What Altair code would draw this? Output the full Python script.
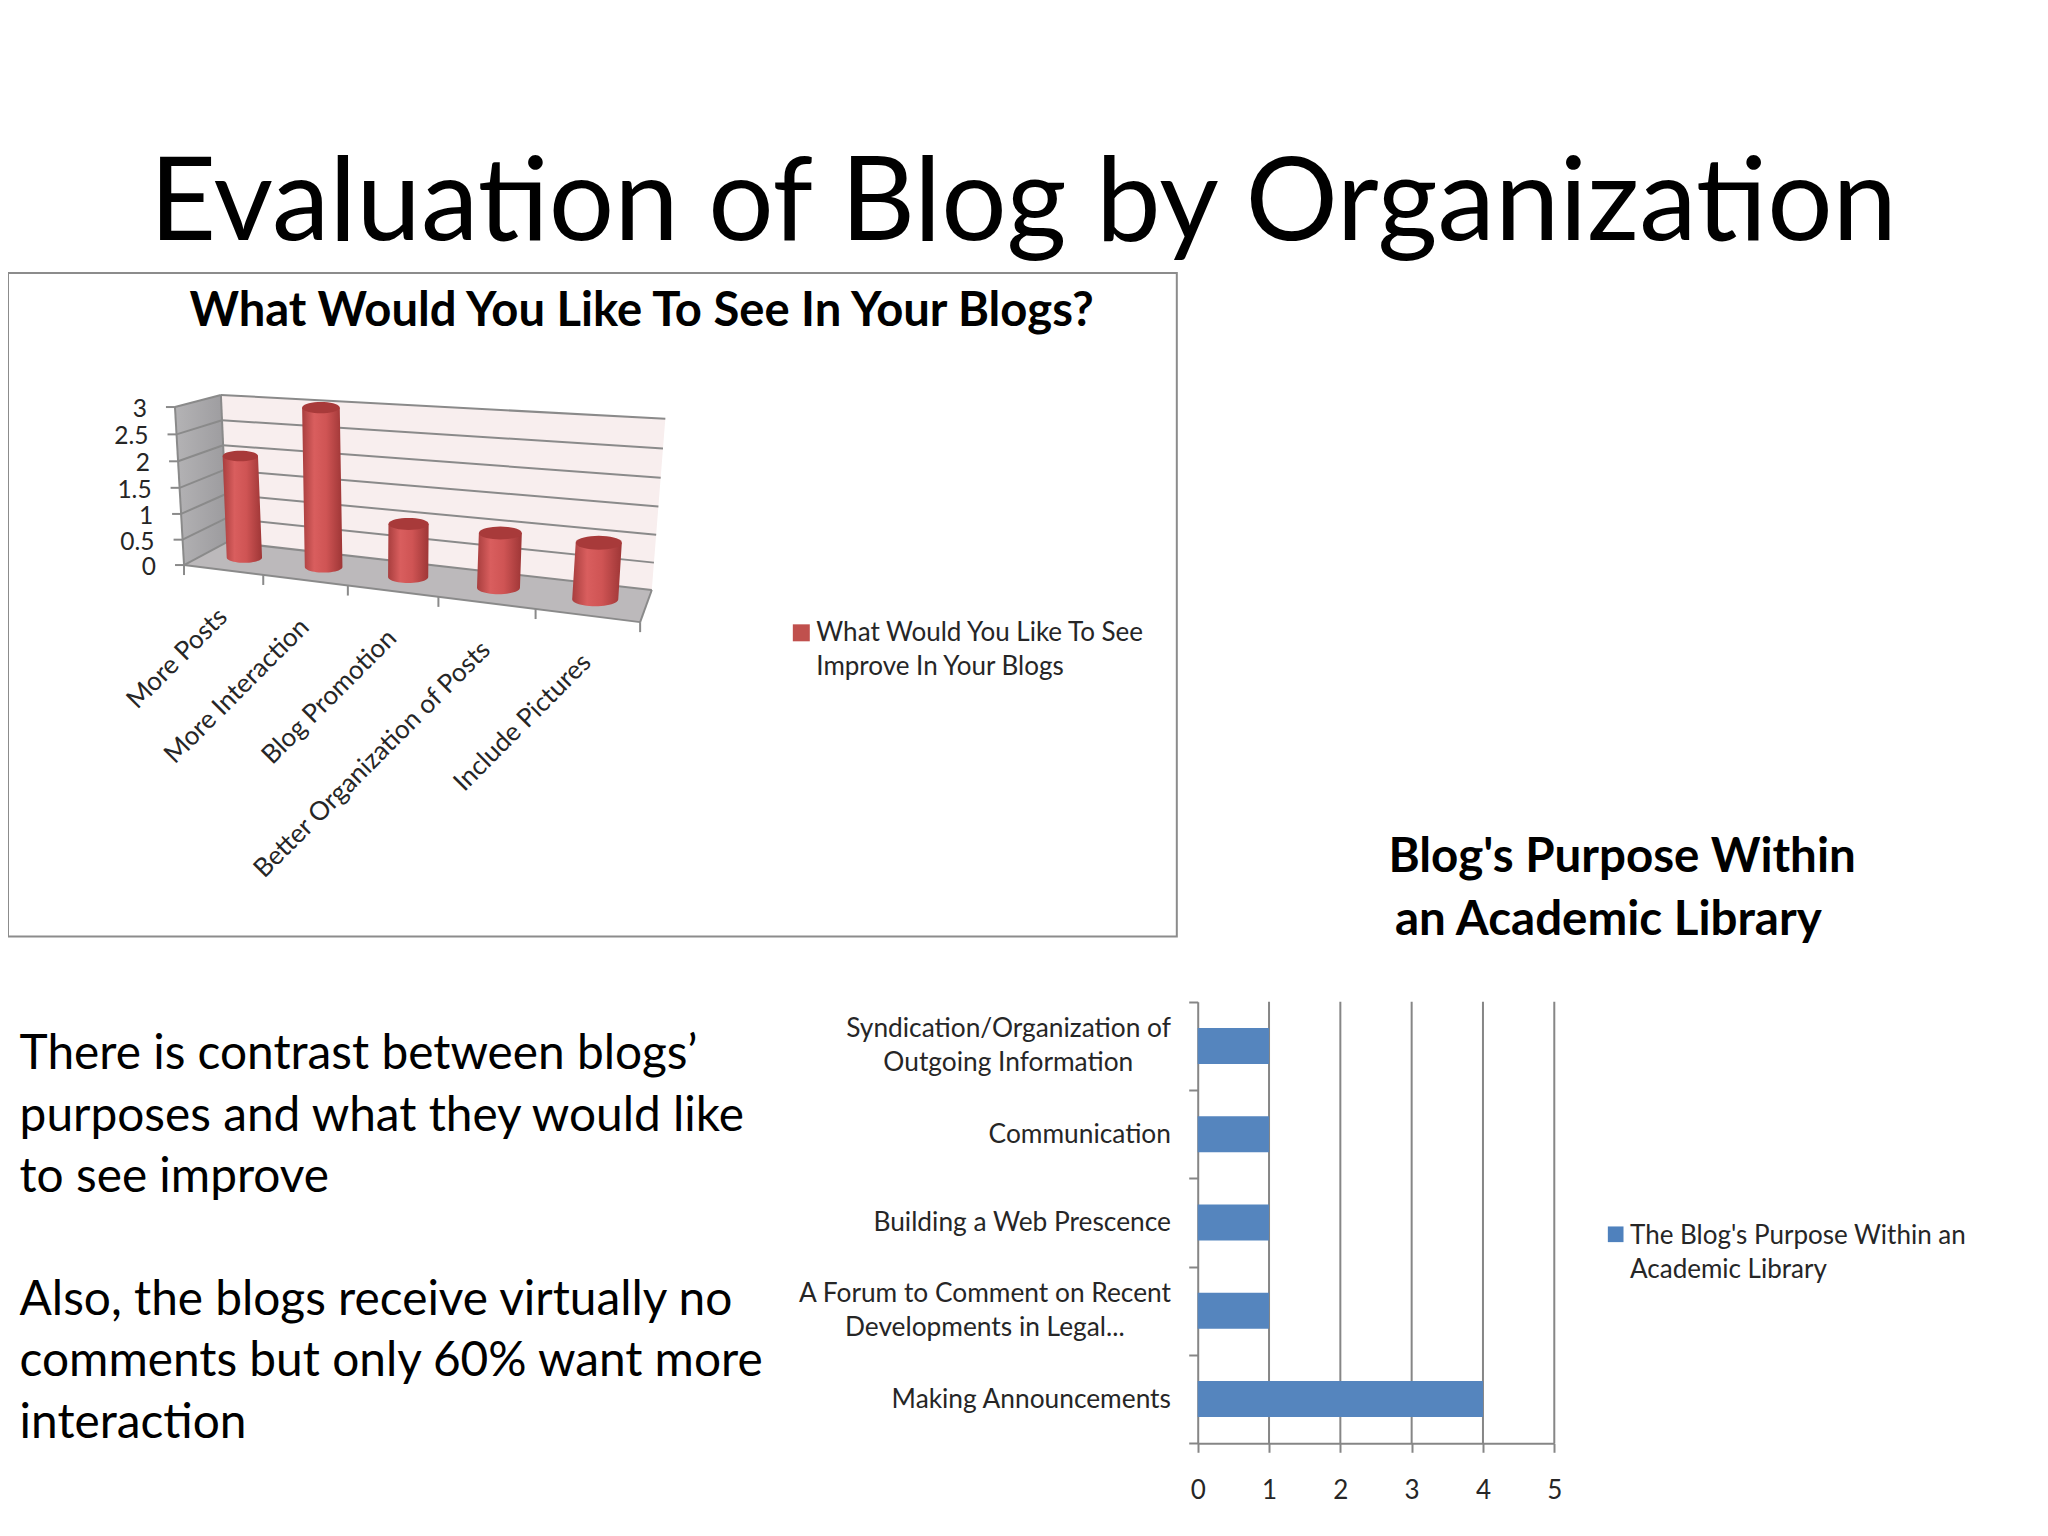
import altair as alt
import numpy as np
import pandas as pd

W, H = 2032, 1520
FONT = "Lato"

# ---- chart data ----
wish_cats = ["More Posts", "More Interaction", "Blog Promotion", "Better Organization of Posts", "Include Pictures"]
wish_vals = [2, 3, 1, 1, 1]
wish_ticks = [0, 0.5, 1, 1.5, 2, 2.5, 3]
purpose_cats = ["Syndication/Organization of Outgoing Information", "Communication", "Building a Web Prescence",
                "A Forum to Comment on Recent Developments in Legal...", "Making Announcements"]
purpose_vals = [1, 1, 1, 1, 4]
purpose_ticks = [0, 1, 2, 3, 4, 5]
title = "Evaluation of Blog by Organization"
body_lines = ["There is contrast between blogs’", "purposes and what they would like", "to see improve",
              "Also, the blogs receive virtually no", "comments but only 60% want more", "interaction"]


def page(x, y):
    return x * 2048 / 1568 - 8, y * 2048 / 1568 - 8


def zoomed(zx, zy):
    return zx / 2.24 - 8, 270 + zy / 2.45 - 8


# ---- perspective fit for the 3D column chart: (category pos, depth, value) -> picture ----
calib = [((0, 0, 0), (415, 722)), ((5, 0, 0), (1435, 865)), ((5, 1, 0), (1460, 780)), ((0, 1, 0), (500, 672)),
         ((0, 0, 3), (387, 333)), ((0, 1, 3), (500, 306)), ((5, 1, 3), (1490, 362)),
         ((1, 0, 0), (590, 745)), ((2, 0, 0), (778, 773)), ((3, 0, 0), (980, 803)), ((4, 0, 0), (1198, 833)),
         ((0.5, 0.5, 0), (552, 700)), ((1.5, 0.5, 0), (728, 725)), ((2.5, 0.5, 0), (915, 750)),
         ((3.5, 0.5, 0), (1120, 778)), ((4.5, 0.5, 0), (1333, 808)),
         ((0.5, 0.5, 2), (540, 458)), ((1.5, 0.5, 3), (718, 340)), ((2.5, 0.5, 1), (915, 623)),
         ((3.5, 0.5, 1), (1120, 645)), ((4.5, 0.5, 1), (1340, 670))]
A, b = [], []
for (X, Y, Z), z in calib:
    x, y = zoomed(*z)
    A.append([X, Y, Z, 1, 0, 0, 0, 0, -x * X, -x * Y, -x * Z]); b.append(x)
    A.append([0, 0, 0, 0, X, Y, Z, 1, -y * X, -y * Y, -y * Z]); b.append(y)
P = np.linalg.lstsq(np.array(A, float), np.array(b, float), rcond=None)[0]
P = np.append(P, 1.0).reshape(3, 4)


def proj(u, d, v):
    q = P @ np.array([u, d, v, 1.0])
    return float(q[0] / q[2]), float(q[1] / q[2])


def polygon_rows(pts, pid):
    pts = list(pts)
    xs = sorted({round(p[0], 3) for p in pts})
    rows = []
    n = len(pts)
    for x in xs:
        ys = []
        for i in range(n):
            (x1, y1), (x2, y2) = pts[i], pts[(i + 1) % n]
            lo, hi = min(x1, x2), max(x1, x2)
            if lo - 1e-3 <= x <= hi + 1e-3:
                if abs(x2 - x1) < 1e-6:
                    ys += [y1, y2]
                else:
                    ys.append(y1 + (y2 - y1) * (x - x1) / (x2 - x1))
        rows.append({"x": x, "y": min(ys), "y2": max(ys), "id": pid})
    return rows


SX = alt.Scale(domain=[0, W], range=[0, W])
SY = alt.Scale(domain=[0, H], range=[0, H])
enc_x = alt.X("x:Q", scale=SX, axis=None)
enc_y = alt.Y("y:Q", scale=SY, axis=None)


def area_layer(rows, fill, **kw):
    return alt.Chart(pd.DataFrame(rows)).mark_area(color=fill, interpolate="linear", orient="vertical", **kw).encode(
        x=enc_x, y=enc_y, y2="y2:Q", detail="id:N")


def seg_layer(segs, color, width):
    df = pd.DataFrame([{"x": a[0], "y": a[1], "x2": c[0], "y2": c[1]} for a, c in segs])
    return alt.Chart(df).mark_rule(color=color, strokeWidth=width).encode(x=enc_x, y=enc_y, x2="x2:Q", y2="y2:Q")


def text_layer(lines, size, weight="normal", align="left", angle=0, color="#000000", font=FONT):
    df = pd.DataFrame([{"x": x, "y": y, "t": t} for t, x, y in lines])
    return alt.Chart(df).mark_text(font=font, fontSize=size, fontWeight=weight, align=align, baseline="middle",
                                   angle=angle, color=color).encode(x=enc_x, y=enc_y, text="t:N")


scene = []
# slide title and paragraph
scene.append(text_layer([(title, *page(114.5, 157))], 115.5))
ys = [808, 855, 902, 996, 1043, 1090]
scene.append(text_layer([(t, *page(15, y)) for t, y in zip(body_lines, ys)], 47.8))

# chart frame
x0, y0 = page(0, 209)
x1, y1 = page(901, 717)
frame = pd.DataFrame([{"x": 0, "x2": x1, "y": y0, "y2": y1}])
scene.append(alt.Chart(frame).mark_rect(fill="white", stroke="#8c8c8c", strokeWidth=2).encode(
    x=enc_x, x2="x2:Q", y=enc_y, y2="y2:Q"))
scene.append(text_layer([("What Would You Like To See In Your Blogs?", *page(145, 239))], 47.2, weight="bold"))

# 3D walls
wall_back = [proj(0, 1, 0), proj(5, 1, 0), proj(5, 1, 3), proj(0, 1, 3)]
wall_side = [proj(0, 0, 0), proj(0, 1, 0), proj(0, 1, 3), proj(0, 0, 3)]
floor = [proj(0, 0, 0), proj(5, 0, 0), proj(5, 1, 0), proj(0, 1, 0)]
scene.append(area_layer(polygon_rows(wall_back, "b"), "#f8eeee"))
scene.append(area_layer(polygon_rows(wall_side, "s"),
                        alt.Gradient(gradient="linear", x1=0, x2=1, y1=0, y2=0,
                                     stops=[alt.GradientStop(color="#b4b3b5", offset=0),
                                            alt.GradientStop(color="#9c9b9e", offset=1)])))
scene.append(area_layer(polygon_rows(floor, "f"), "#bcb9bb"))
grid = []
for v in wish_ticks[1:]:
    grid.append((proj(0, 1, v), proj(5, 1, v)))
    grid.append((proj(0, 1, v), proj(0, 0, v)))
grid.append((proj(0, 1, 0), proj(0, 1, 3)))
grid.append((proj(5, 0, 0), proj(5, 1, 0)))
grid.append((proj(0, 1, 0), proj(5, 1, 0)))
grid.append((proj(0, 0, 0), proj(0, 1, 0)))
grid.append((proj(0, 0, 0), proj(0, 0, 3)))
grid.append((proj(0, 0, 0), proj(5, 0, 0)))
scene.append(seg_layer(grid, "#8a8a8a", 2))
ticks = []
for v in wish_ticks:
    a = proj(0, 0, v)
    ticks.append((a, (a[0] - 9, a[1])))
for u in range(6):
    a = proj(u, 0, 0)
    ticks.append((a, (a[0], a[1] + 10)))
scene.append(seg_layer(ticks, "#8a8a8a", 2))

# cylinders
bodies, caps = [], []
for i, val in enumerate(wish_vals):
    bx, by = proj(i + 0.5, 0.5, 0)
    tx, ty = proj(i + 0.5, 0.5, val)
    rx = (proj(i + 0.73, 0.5, 0)[0] - proj(i + 0.27, 0.5, 0)[0]) / 2
    ry = rx * 0.3
    sil = [(tx - rx, ty)]
    for a in np.linspace(np.pi, 0, 25):
        sil.append((bx + rx * np.cos(a), by + ry * np.sin(a)))
    sil.append((tx + rx, ty))
    bodies += polygon_rows(sil, f"c{i}")
    caps += polygon_rows([(tx + rx * np.cos(a), ty + ry * np.sin(a)) for a in np.linspace(0, 2 * np.pi, 37)[:-1]],
                         f"t{i}")
grad = alt.Gradient(gradient="linear", x1=0, x2=1, y1=0, y2=0,
                    stops=[alt.GradientStop(color="#a83e3e", offset=0),
                           alt.GradientStop(color="#d95e5e", offset=0.3),
                           alt.GradientStop(color="#cf5454", offset=0.6),
                           alt.GradientStop(color="#9e3636", offset=1)])
scene.append(area_layer(bodies, grad))
scene.append(area_layer(caps, "#a83a3a"))

# 3D axis labels
ylab = []
for v in wish_ticks:
    a = proj(0, 0, v)
    ylab.append((f"{v:g}", a[0] - 28, a[1] + 3))
scene.append(text_layer(ylab, 24.5, align="right", color="#262626"))
clab = []
for i, c in enumerate(wish_cats):
    a = proj(i + 0.5, 0, 0)
    clab.append((c, a[0] + 0, a[1] + 43))
scene.append(text_layer(clab, 26, align="right", angle=315, color="#262626"))

# legends and second title
swatch = pd.DataFrame([
    {"x": page(607, 0)[0], "x2": page(620, 0)[0], "y": page(0, 478)[1], "y2": page(0, 491)[1], "c": "#c0504d"},
    {"x": page(1231, 0)[0], "x2": page(1243, 0)[0], "y": page(0, 939)[1], "y2": page(0, 951)[1], "c": "#4f81bd"}])
scene.append(alt.Chart(swatch).mark_rect().encode(x=enc_x, x2="x2:Q", y=enc_y, y2="y2:Q",
                                                  color=alt.Color("c:N", scale=None)))
scene.append(text_layer([("What Would You Like To See", *page(625, 485)), ("Improve In Your Blogs", *page(625, 511)),
                         ("The Blog's Purpose Within an", *page(1248, 946)), ("Academic Library", *page(1248, 972))],
                        26, color="#262626"))
scene.append(text_layer([("Blog's Purpose Within", *page(1063, 657)), ("an Academic Library", *page(1068, 705))],
                        47.5, weight="bold"))

# ---- real bar chart ----
bx0, by0 = page(917, 767)
bx1, by1 = page(1190, 1105)
bars_df = pd.DataFrame({"cat": purpose_cats, "val": purpose_vals})
xs = alt.Scale(domain=[0, 5], range=[bx0, bx1], nice=False)
ys_b = alt.Scale(domain=purpose_cats, range=[by0, by1], paddingInner=0, paddingOuter=0)
bar_layers = []
axis_color = "#868686"
bar_x = alt.X("val:Q", scale=xs, title=None,
              axis=alt.Axis(values=purpose_ticks, format="d", orient="bottom", offset=-(H - by1), grid=False,
                            domainColor=axis_color, tickColor=axis_color, domainWidth=2, tickWidth=2, tickSize=9,
                            labelFont=FONT, labelFontSize=26, labelColor="#262626", labelPadding=25, labelFlush=False))
bar_y = alt.Y("cat:N", scale=ys_b, title=None, sort=purpose_cats,
              axis=alt.Axis(orient="left", offset=-bx0, labels=False, tickBand="extent", grid=False,
                            domainColor=axis_color, tickColor=axis_color, domainWidth=2, tickWidth=2, tickSize=9))
bar_layers.append(alt.Chart(bars_df).mark_bar(size=36, color="#5585be", opacity=1).encode(x=bar_x, y=bar_y))
grid_rules = alt.Chart(pd.DataFrame({"val": purpose_ticks[1:]})).mark_rule(color=axis_color, strokeWidth=2).encode(
    x=alt.X("val:Q", scale=xs, title=None), y=alt.value(by0), y2=alt.value(by1))
bar_layers.insert(0, grid_rules)

label_right = page(896.5, 0)[0]
cat_y = alt.Y("cat:N", scale=ys_b, title=None, sort=purpose_cats)


def cat_text(cat, text, x, align, dy):
    return alt.Chart(pd.DataFrame({"cat": [cat], "t": [text]})).mark_text(
        font=FONT, fontSize=26.3, color="#262626", align=align, baseline="middle", dy=dy).encode(
        x=alt.value(x), y=cat_y, text="t:N")


bar_layers += [
    cat_text(purpose_cats[0], "Syndication/Organization of", label_right, "right", -16.5),
    cat_text(purpose_cats[0], "Outgoing Information", page(772, 0)[0], "center", 17.5),
    cat_text(purpose_cats[1], "Communication", label_right, "right", 0.5),
    cat_text(purpose_cats[2], "Building a Web Prescence", label_right, "right", 0.5),
    cat_text(purpose_cats[3], "A Forum to Comment on Recent", label_right, "right", -16.5),
    cat_text(purpose_cats[3], "Developments in Legal...", page(754, 0)[0], "center", 17.5),
    cat_text(purpose_cats[4], "Making Announcements", label_right, "right", 0.5),
]

chart = alt.layer(alt.layer(*scene), alt.layer(*bar_layers)).resolve_scale(x="independent", y="independent").properties(
    width=W, height=H, padding=0, autosize=alt.AutoSizeParams(type="none"), background="white"
).configure_view(stroke=None)

chart.save("out.html", embed_options={"renderer": "svg", "actions": False})
